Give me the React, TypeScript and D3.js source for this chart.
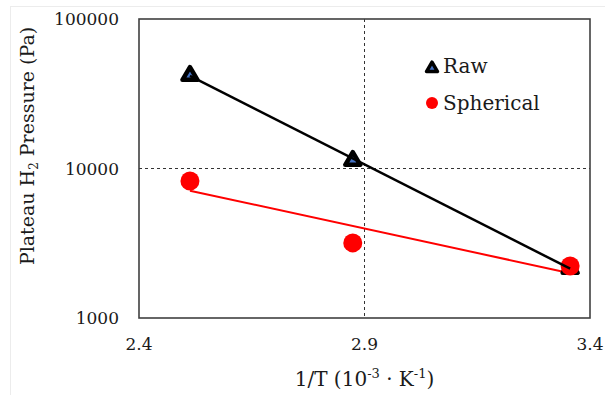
import React, { useEffect, useRef } from 'react';
import * as d3 from 'd3';

// 1/T (10^-3 K^-1)
const invT = [2.513, 2.874, 3.356];
const rawP = [42200, 11400, 2160];
const sphericalP = [8240, 3180, 2230];
const xTicks = [2.4, 2.9, 3.4];
const yTicks = [1000, 10000, 100000];

const FONT = '"DejaVu Serif", serif';

// least squares fit of log10(y) against x (Excel exponential trendline)
function expFit(xs: number[], ys: number[]) {
  const ly = ys.map(v => Math.log10(v));
  const mx = d3.mean(xs) as number;
  const my = d3.mean(ly) as number;
  let sxy = 0, sxx = 0;
  xs.forEach((x, i) => {
    sxy += (x - mx) * (ly[i] - my);
    sxx += (x - mx) * (x - mx);
  });
  const b = sxy / sxx;
  return (x: number) => Math.pow(10, my + b * (x - mx));
}

function Chart() {
  const ref = useRef<SVGSVGElement>(null);

  useEffect(() => {
    const svg = d3.select(ref.current);
    svg.selectAll('*').remove();

    const left = 139, right = 590, top = 19, bottom = 318;
    const x = d3.scaleLinear().domain([2.4, 3.4]).range([left, right]);
    const y = d3.scaleLog().domain([1000, 100000]).range([bottom, top]);

    // faint frame of the chart area
    svg.append('rect')
      .attr('x', 10.5).attr('y', 6.5)
      .attr('width', 620).attr('height', 420)
      .attr('fill', 'none').attr('stroke', '#ececec');

    // dashed grid
    svg.append('line')
      .attr('x1', x(2.9)).attr('x2', x(2.9))
      .attr('y1', top).attr('y2', bottom)
      .attr('stroke', '#333').attr('stroke-width', 1)
      .attr('stroke-dasharray', '3,3');
    svg.append('line')
      .attr('x1', left).attr('x2', right)
      .attr('y1', y(10000)).attr('y2', y(10000))
      .attr('stroke', '#333').attr('stroke-width', 1)
      .attr('stroke-dasharray', '3,3');

    svg.append('rect')
      .attr('x', left).attr('y', top)
      .attr('width', right - left).attr('height', bottom - top)
      .attr('fill', 'none').attr('stroke', '#404040').attr('stroke-width', 1.6);

    // tick labels
    svg.selectAll('.ytick')
      .data(yTicks)
      .enter()
      .append('text')
      .attr('x', 119)
      .attr('y', d => y(d))
      .attr('dy', '0.36em')
      .attr('text-anchor', 'end')
      .attr('font-family', FONT)
      .attr('font-size', 17)
      .attr('fill', '#1a1a1a')
      .text(d => String(d));

    svg.selectAll('.xtick')
      .data(xTicks)
      .enter()
      .append('text')
      .attr('x', d => x(d))
      .attr('y', 350)
      .attr('text-anchor', 'middle')
      .attr('font-family', FONT)
      .attr('font-size', 17)
      .attr('fill', '#1a1a1a')
      .text(d => d.toFixed(1));

    // axis titles
    const xt = svg.append('text')
      .attr('x', (left + right) / 2)
      .attr('y', 386)
      .attr('text-anchor', 'middle')
      .attr('font-family', FONT)
      .attr('font-size', 20)
      .attr('fill', '#1a1a1a');
    xt.append('tspan').text('1/T (10');
    xt.append('tspan').attr('font-size', 13).attr('dy', -8).text('-3');
    xt.append('tspan').attr('dy', 8).text(' \u00b7 K');
    xt.append('tspan').attr('font-size', 13).attr('dy', -8).text('-1');
    xt.append('tspan').attr('dy', 8).text(')');

    const yt = svg.append('text')
      .attr('transform', 'translate(34,146) rotate(-90)')
      .attr('text-anchor', 'middle')
      .attr('font-family', FONT)
      .attr('font-size', 19)
      .attr('fill', '#1a1a1a');
    yt.append('tspan').text('Plateau H');
    yt.append('tspan').attr('font-size', 12).attr('dy', 4).text('2');
    yt.append('tspan').attr('dy', -4).text(' Pressure (Pa)');

    const tri = (s: number) => {
      const h = s * 0.85;
      return `M0,${-h * 0.62}L${s / 2},${h * 0.38}L${-s / 2},${h * 0.38}Z`;
    };

    const rawFit = expFit(invT, rawP);
    const sphFit = expFit(invT, sphericalP);
    const x0 = invT[0], x1 = invT[invT.length - 1];

    // spherical trendline
    svg.append('line')
      .attr('x1', x(x0)).attr('y1', y(sphFit(x0)))
      .attr('x2', x(x1)).attr('y2', y(sphFit(x1)))
      .attr('stroke', '#ff0000').attr('stroke-width', 2);

    // raw markers
    svg.selectAll('.raw')
      .data(invT)
      .enter()
      .append('path')
      .attr('d', tri(15))
      .attr('transform', (d, i) => `translate(${x(d)},${y(rawP[i])})`)
      .attr('fill', '#4472c4')
      .attr('stroke', '#000')
      .attr('stroke-width', 4.5)
      .attr('stroke-linejoin', 'round');

    // spherical markers
    svg.selectAll('.sph')
      .data(invT)
      .enter()
      .append('circle')
      .attr('cx', d => x(d))
      .attr('cy', (d, i) => y(sphericalP[i]))
      .attr('r', 9.5)
      .attr('fill', '#ff0000');

    // raw trendline
    svg.append('line')
      .attr('x1', x(x0)).attr('y1', y(rawFit(x0)))
      .attr('x2', x(x1)).attr('y2', y(rawFit(x1)))
      .attr('stroke', '#000').attr('stroke-width', 2.5);

    // legend
    svg.append('path')
      .attr('d', tri(11))
      .attr('transform', 'translate(432,68)')
      .attr('fill', '#4472c4')
      .attr('stroke', '#000')
      .attr('stroke-width', 3.5)
      .attr('stroke-linejoin', 'round');
    svg.append('text')
      .attr('x', 443).attr('y', 73)
      .attr('font-family', FONT).attr('font-size', 20).attr('fill', '#1a1a1a')
      .text('Raw');
    svg.append('circle')
      .attr('cx', 432).attr('cy', 103).attr('r', 6)
      .attr('fill', '#ff0000');
    svg.append('text')
      .attr('x', 443).attr('y', 110)
      .attr('font-family', FONT).attr('font-size', 20).attr('fill', '#1a1a1a')
      .text('Spherical');
  }, []);

  return <svg ref={ref} width={605} height={395} style={{ display: 'block' }}></svg>;
}

export default function App() {
  return (
    <div style={{ position: 'absolute', left: 0, top: 0, width: 605, height: 395, background: '#fff' }}>
      <Chart />
    </div>
  );
}
